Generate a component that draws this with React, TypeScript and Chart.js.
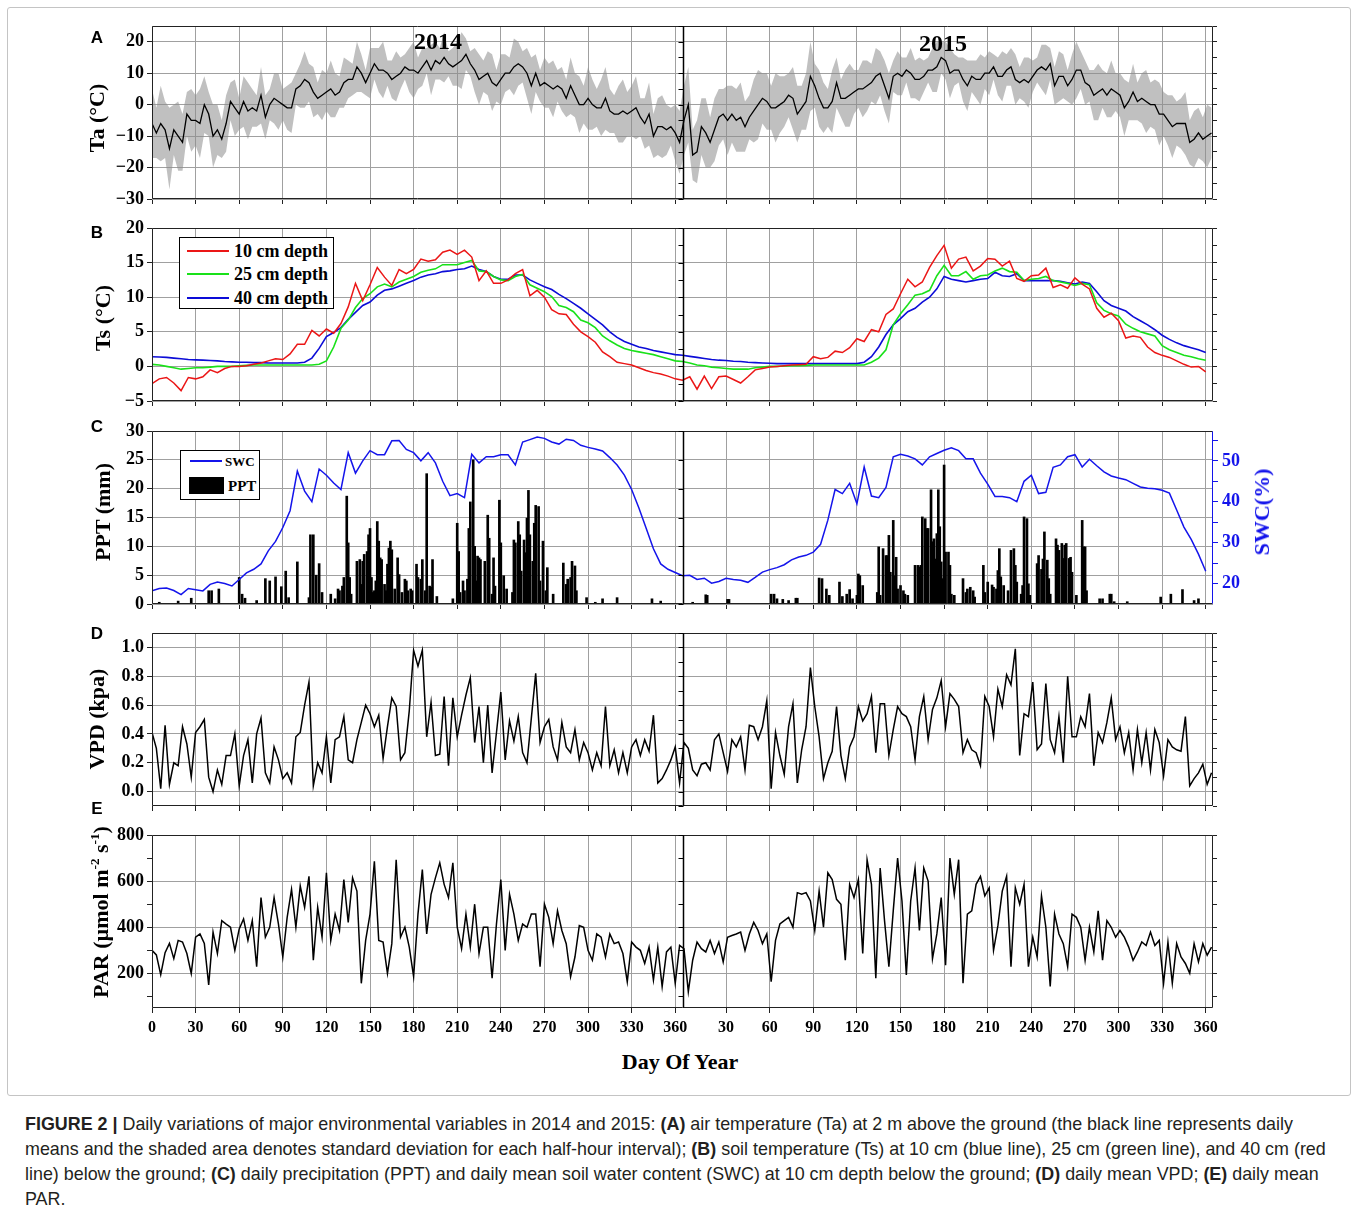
import React, { useEffect, useRef } from "react";
import { Chart, registerables } from "chart.js";

Chart.register(...registerables);

// ================= DATA =================
const YEAR_DAYS = 365;
const X_MAX = 730;
const TICK_DAYS = [0, 30, 60, 90, 120, 150, 180, 210, 240, 270, 300, 330, 360];

// (A) air temperature, daily mean and SD, one value every 3 days
const TA_STEP = 3;
const TA_MEAN_2014 = [
  -6, -9, -6, -8, -14, -8, -10, -12, -3, -5,
  -5, -6, 0, -3, -10, -8, -11, -6, 1, -1,
  -3, 1, -2, -1, -2, 3, -4, 0, 2, 1,
  0, -1, -1, 5, 6, 8, 7, 4, 2, 3,
  4, 5, 3, 4, 7, 8, 8, 12, 10, 7,
  10, 13, 11, 11, 10, 8, 9, 10, 12, 11,
  11, 10, 12, 14, 11, 14, 13, 15, 13, 12,
  13, 14, 16, 13, 11, 8, 9, 10, 7, 6,
  8, 10, 10, 12, 13, 12, 10, 6, 10, 6,
  7, 6, 5, 6, 5, 2, 6, 3, 0, 0,
  2, 0, -1, -1, 2, -2, -3, -3, -2, -3,
  -2, -1, -4, -6, -3, -10, -7, -7, -8, -7,
  -9, -12,
];
const TA_MEAN_2015 = [
  -5, 0, -16, -15, -7, -9, -12, -8, -4, -3,
  -5, -3, -5, -4, -7, -4, -2, 0, 2, 1,
  -1, -1, 0, 1, 3, 2, -3, -1, 1, 9,
  6, 2, -1, -1, 1, 7, 2, 2, 3, 4,
  5, 5, 6, 7, 9, 10, 6, 2, 9, 10,
  9, 11, 10, 8, 8, 9, 11, 11, 12, 15,
  14, 10, 11, 11, 8, 6, 9, 8, 8, 10,
  10, 12, 9, 9, 11, 12, 8, 7, 8, 7,
  9, 11, 12, 11, 13, 6, 9, 9, 6, 8,
  11, 11, 7, 6, 3, 4, 5, 3, 5, 4,
  3, -1, 1, 4, 1, 2, 1, 0, 0, -3,
  -3, -5, -7, -6, -6, -6, -12, -11, -9, -11,
  -10, -9,
];
const TA_SD_2014 = [
  11, 8, 12, 9, 13, 8, 11, 9,
  7, 10, 8, 11, 9, 7, 10, 8, 6, 9,
  6, 9, 5, 8, 9, 6, 5, 9, 7, 5, 8, 9, 5, 7,
  8, 5, 7, 9, 6, 8, 5, 8, 6, 9, 7, 5, 8, 6,
  5, 8, 6, 4, 8, 5, 7, 9, 4, 6, 8, 5, 4, 7, 9, 5, 6, 4, 8, 6, 5, 8, 4, 6, 7, 9, 5, 4, 7,
  8, 5, 7, 9, 5, 8, 6, 5, 9, 7, 5, 8, 9, 6, 5, 8, 7, 9, 5, 7, 6, 9, 7,
  9, 6, 10, 8, 6, 9, 10, 7, 6, 9, 10, 7, 8, 10, 6, 8, 10, 7, 9, 10, 8, 6, 9, 10,
];
const TA_SD_2015 = [
  11, 12, 8, 10, 9, 11, 8, 10, 9, 8, 11, 9,
  10, 11, 8, 7, 10, 11, 8, 9, 7, 11, 9, 8, 7, 10, 9,
  7, 9, 11, 7, 9, 8, 6, 10, 8, 6, 9, 10, 7, 6, 9, 8, 6, 9, 7, 8,
  8, 5, 7, 6, 4, 8, 6, 7, 5, 4, 7, 8, 5, 6, 8, 5, 4, 7, 8, 5, 6, 8, 5, 7, 4, 6, 8, 5, 6, 8, 5, 7, 8, 5, 4, 7, 8, 5, 6, 8,
  7, 5, 8, 9, 6, 7, 5, 8, 9, 6, 7, 9, 6, 7, 9, 6,
  9, 6, 8, 10, 7, 8, 10, 7, 8, 10, 7, 8, 10, 7, 9, 8, 7, 10, 8,
];

// (B) soil temperature, one value every 5 days
const TS_STEP = 5;
const TS10_2014 = [
  -2.5, -1.8, -1.6, -2.4, -3.5, -1.6, -1.8, -1.5, -0.5, -0.9,
  -0.3, 0.0, 0.0, 0.1, 0.3, 0.5, 0.8, 1.1, 1.0, 1.8,
  3.2, 3.2, 5.2, 4.4, 5.4, 4.8, 6.2, 8.6, 12.0, 9.5,
  11.8, 14.3, 12.9, 11.7, 14.0, 13.4, 14.0, 15.5, 15.2, 15.4,
  16.5, 16.8, 16.2, 16.8, 15.8, 12.4, 13.8, 12.0, 12.0, 12.5,
  13.4, 14.0, 10.2, 11.0, 10.0, 8.2, 7.6, 7.5, 6.1, 5.0,
  4.3, 3.5, 2.1, 1.4, 0.6, 0.4, 0.2, -0.2, -0.6, -0.9,
  -1.1, -1.4, -1.8,
];
const TS10_2015 = [
  -2.0, -1.5, -3.3, -1.4, -3.2, -1.5, -1.4, -1.9, -2.4, -1.5,
  -0.5, -0.3, -0.1, 0.0, 0.1, 0.2, 0.25, 0.3, 1.4, 1.1,
  1.3, 2.2, 2.0, 2.7, 4.0, 3.6, 5.3, 5.0, 7.5, 8.3,
  10.5, 12.6, 11.5, 12.2, 14.3, 16.0, 17.5, 14.2, 15.5, 15.8,
  13.8, 14.5, 15.6, 15.5, 14.5, 15.2, 12.7, 12.3, 13.1, 13.2,
  14.2, 11.4, 11.8, 11.3, 12.8, 11.9, 11.2, 8.4, 7.1, 7.7,
  6.6, 4.1, 4.4, 4.2, 2.8, 2.0, 1.6, 1.3, 0.8, 0.3,
  -0.1, 0.0, -0.8,
];
const TS25_2014 = [
  0.3, 0.2, 0.0, -0.2, -0.4, -0.3, -0.2, -0.2, -0.1, 0.0,
  0.0, 0.0, 0.1, 0.15, 0.2, 0.2, 0.2, 0.2, 0.2, 0.2,
  0.2, 0.2, 0.2, 0.3, 0.8, 2.8, 5.5, 6.7, 8.5, 9.8,
  10.5, 11.5, 11.9, 11.5, 12.2, 12.6, 13.0, 13.6, 13.9, 14.1,
  14.7, 14.7, 14.7, 15.0, 15.3, 13.8, 13.7, 13.0, 12.5, 12.4,
  13.0, 13.3, 11.8, 11.3, 10.8, 10.1, 8.8, 8.5, 7.9, 6.7,
  6.3, 5.6, 4.4, 3.7, 3.1, 2.6, 2.3, 2.1, 1.9, 1.7,
  1.4, 1.1, 0.8,
];
const TS25_2015 = [
  0.7, 0.5, 0.2, 0.1, -0.1, -0.2, -0.3, -0.4, -0.4, -0.4,
  -0.2, -0.1, 0.0, 0.0, 0.05, 0.1, 0.1, 0.15, 0.2, 0.2,
  0.2, 0.2, 0.2, 0.2, 0.2, 0.2, 0.6, 1.2, 2.4, 6.0,
  7.6, 8.9, 10.3, 10.5, 11.0, 13.1, 14.6, 13.1, 13.1, 13.7,
  12.6, 13.1, 13.2, 13.8, 14.2, 13.7, 13.6, 12.4, 12.6, 12.7,
  13.0, 12.4, 12.2, 12.0, 11.7, 12.0, 11.8, 9.2, 8.1, 7.6,
  7.3, 6.1, 5.5, 5.0, 4.7, 4.4, 3.0, 2.4, 2.0, 1.6,
  1.4, 1.1, 0.9,
];
const TS40_2014 = [
  1.4, 1.35, 1.3, 1.2, 1.1, 1.0, 0.95, 0.9, 0.85, 0.8,
  0.7, 0.65, 0.6, 0.6, 0.55, 0.55, 0.5, 0.5, 0.5, 0.5,
  0.5, 0.6, 1.2, 2.6, 4.3, 4.9, 5.6, 6.8, 7.8, 8.8,
  9.3, 10.3, 11.0, 11.2, 11.6, 12.0, 12.4, 12.9, 13.2, 13.4,
  13.7, 13.8, 14.0, 14.1, 14.5, 14.0, 13.7, 13.0, 12.6, 12.6,
  13.2, 13.2, 12.5, 12.0, 11.5, 11.1, 10.4, 9.8, 9.1, 8.4,
  7.6, 6.8, 6.0, 5.0, 4.2, 3.6, 3.2, 2.8, 2.6, 2.3,
  2.1, 1.9, 1.7,
];
const TS40_2015 = [
  1.6, 1.45, 1.3, 1.15, 1.0, 0.9, 0.85, 0.75, 0.7, 0.6,
  0.55, 0.5, 0.45, 0.4, 0.4, 0.4, 0.4, 0.4, 0.4, 0.4,
  0.4, 0.4, 0.4, 0.4, 0.4, 0.6, 1.4, 2.8, 4.6, 6.0,
  6.9, 7.9, 8.4, 9.3, 10.0, 11.2, 13.0, 12.6, 12.4, 12.2,
  12.4, 12.6, 12.7, 13.6, 13.1, 13.0, 13.4, 12.4, 12.4, 12.4,
  12.4, 12.4, 12.3, 12.1, 11.9, 12.2, 12.0, 10.8, 9.5, 8.8,
  8.4, 8.0, 7.2, 6.6, 6.0, 5.3, 4.5, 3.9, 3.4, 3.0,
  2.7, 2.4, 2.0,
];

// (C) soil water content (%), every 5 days; precipitation (mm) on rain days
const SWC_STEP = 5;
const SWC_2014 = [
  18.2, 18.8, 18.9, 18.3, 17.3, 18.8, 18.5, 18.2, 19.8, 20.4,
  20.0, 19.4, 21.0, 22.6, 23.5, 24.8, 28.0, 30.3, 33.7, 37.8,
  47.5, 42.6, 40.0, 48.0, 46.5, 44.6, 43.0, 52.0, 47.0, 50.0,
  52.5, 51.5, 51.5, 54.9, 55.0, 52.8, 52.0, 50.0, 52.0, 49.5,
  45.0, 41.5, 42.0, 41.0, 51.6, 49.5, 51.0, 51.0, 51.5, 51.5,
  49.0, 54.6, 55.2, 55.8, 55.5, 54.6, 54.1, 55.3, 55.0, 53.8,
  53.3, 52.9, 52.4, 50.8, 49.0, 46.5, 43.0, 38.5, 33.5, 28.5,
  24.8, 23.5, 22.7,
];
const SWC_2015 = [
  21.9, 22.0, 21.0, 21.3, 20.1, 20.5, 21.3, 21.0, 20.8, 20.3,
  21.5, 22.8, 23.4, 23.9, 24.6, 25.8, 26.5, 26.9, 27.7, 29.6,
  35.5, 43.0, 42.0, 44.5, 39.5, 48.5, 41.4, 41.0, 43.5, 51.0,
  51.6, 51.2, 50.5, 49.0, 51.0, 51.8, 52.6, 53.2, 52.5, 50.5,
  50.5, 47.0, 44.3, 41.3, 41.3, 41.0, 40.0, 45.0, 46.5, 42.0,
  42.3, 48.4, 49.0, 51.0, 51.5, 48.5, 50.4, 48.8, 47.3, 46.3,
  45.8, 45.4, 44.5, 43.6, 43.3, 43.2, 42.8, 42.1, 38.0, 33.8,
  30.8, 27.2, 23.0,
];
const PPT_DAY_2014 = [
  5, 18, 27, 39, 41, 46, 60, 62, 64, 72, 78, 81, 85, 89, 92, 94, 100, 108, 109, 111,
  113, 115, 117, 123, 126, 128, 129, 131, 132, 134, 135, 136, 137, 141, 143, 144, 145, 146, 148, 149,
  150, 151, 152, 153, 154, 155, 156, 157, 158, 160, 161, 162, 163, 164, 165, 167, 169, 170, 172, 174,
  175, 176, 178, 179, 182, 183, 185, 186, 188, 189, 191, 192, 193, 196, 207, 210, 211, 212, 214, 215,
  217, 218, 219, 221, 222, 223, 224, 225, 226, 229, 231, 232, 234, 235, 236, 239, 240, 242, 244, 248,
  249, 250, 252, 253, 254, 256, 257, 258, 259, 260, 262, 263, 264, 266, 267, 269, 271, 272, 276, 283,
  285, 286, 288, 289, 291, 292, 299, 305, 310, 320, 344, 350,
];
const PPT_MM_2014 = [
  0.3, 0.5, 1.0, 2.3, 2.3, 2.6, 4.6, 1.7, 1.0, 0.6, 4.4, 4.0, 4.7, 3.0, 5.7, 1.1, 7.3, 1.1, 12.0, 12.0,
  5.0, 7.0, 2.0, 1.7, 0.9, 2.6, 2.3, 3.1, 4.6, 18.7, 10.6, 4.6, 1.7, 7.4, 7.7, 3.4, 7.4, 8.6, 9.1, 12.0,
  13.1, 4.6, 2.0, 2.3, 4.0, 14.3, 10.9, 8.0, 7.7, 3.4, 2.3, 6.9, 9.7, 10.9, 9.4, 2.6, 8.0, 5.1, 2.0, 4.3,
  4.0, 2.3, 2.6, 2.3, 6.9, 4.6, 4.3, 7.7, 2.3, 22.6, 3.1, 2.9, 7.7, 1.3, 0.9, 14.0, 9.1, 2.0, 4.0, 2.3,
  4.3, 13.1, 17.7, 25.0, 10.0, 4.0, 8.3, 8.0, 7.7, 7.4, 15.4, 11.4, 1.7, 8.0, 3.1, 18.0, 10.6, 4.9, 2.6, 2.0,
  11.1, 10.6, 14.3, 12.0, 5.7, 11.1, 8.9, 14.9, 19.7, 12.0, 7.4, 14.0, 17.1, 16.9, 4.0, 10.9, 2.3, 6.3, 1.7, 7.1,
  3.4, 4.3, 4.6, 7.4, 6.6, 2.3, 1.1, 0.3, 0.9, 1.1, 0.9, 0.5,
];
const PPT_DAY_2015 = [
  7, 16, 17, 31, 32, 61, 63, 65, 69, 73, 78, 79, 94, 96, 99, 101, 108, 110, 113, 115,
  117, 120, 121, 122, 124, 134, 135, 136, 138, 140, 141, 142, 143, 145, 146, 147, 148, 150, 152, 153,
  155, 160, 162, 163, 164, 165, 167, 168, 169, 171, 172, 173, 174, 175, 176, 177, 178, 179, 180, 181,
  183, 184, 185, 187, 193, 195, 196, 198, 200, 201, 207, 208, 210, 213, 214, 216, 217, 218, 219, 221,
  224, 226, 228, 229, 230, 233, 234, 235, 237, 238, 239, 244, 245, 247, 248, 249, 251, 252, 253, 257,
  258, 259, 261, 262, 263, 264, 266, 267, 268, 271, 275, 276, 277, 278, 287, 289, 294, 295, 297, 306,
  329, 336, 344, 352, 355,
];
const PPT_MM_2015 = [
  0.3, 1.6, 1.5, 0.8, 0.8, 1.7, 1.7, 0.9, 0.8, 0.6, 1.0, 1.0, 4.5, 4.4, 2.6, 1.5, 3.8, 1.3, 1.7, 2.5,
  0.9, 1.5, 5.2, 4.9, 3.2, 2.0, 9.9, 1.5, 9.6, 8.4, 8.4, 11.9, 5.5, 14.5, 4.9, 8.1, 2.6, 3.2, 2.3, 1.7,
  1.5, 6.7, 6.7, 6.4, 6.7, 15.1, 14.8, 13.1, 13.1, 19.8, 10.8, 11.3, 7.8, 12.2, 19.8, 13.4, 7.3, 4.4, 24.1, 9.0,
  9.0, 6.7, 1.7, 1.5, 4.4, 2.0, 2.6, 2.9, 2.3, 1.2, 6.7, 2.0, 3.8, 3.3, 2.9, 2.6, 5.8, 9.6, 4.7, 3.2,
  2.3, 9.3, 9.6, 6.7, 3.8, 1.7, 3.2, 15.1, 14.8, 3.5, 1.5, 7.0, 8.4, 6.0, 7.8, 12.5, 7.6, 4.4, 1.7, 11.3,
  10.2, 9.3, 10.5, 7.9, 10.2, 10.5, 7.9, 8.1, 5.5, 1.5, 14.5, 9.9, 9.9, 2.3, 0.9, 0.9, 1.7, 1.7, 0.4, 0.4,
  1.2, 1.7, 2.5, 0.6, 0.9,
];

// (D) VPD (kPa) and (E) PAR, one value every 3 days
const DAILY_STEP = 3;
const VPD_2014 = [
  0.41, 0.3, 0.02, 0.46, 0.05, 0.2, 0.18, 0.45, 0.33, 0.1,
  0.41, 0.45, 0.5, 0.1, 0.0, 0.15, 0.05, 0.25, 0.25, 0.4,
  0.04, 0.25, 0.36, 0.06, 0.4, 0.51, 0.13, 0.06, 0.31, 0.22,
  0.09, 0.13, 0.06, 0.38, 0.41, 0.6, 0.76, 0.04, 0.2, 0.13,
  0.38, 0.06, 0.36, 0.38, 0.52, 0.22, 0.2, 0.36, 0.48, 0.6,
  0.54, 0.45, 0.53, 0.23, 0.45, 0.65, 0.59, 0.22, 0.27, 0.56,
  0.98, 0.87, 0.98, 0.38, 0.62, 0.25, 0.26, 0.66, 0.18, 0.65,
  0.38, 0.53, 0.67, 0.79, 0.34, 0.59, 0.2, 0.6, 0.13, 0.41,
  0.69, 0.22, 0.49, 0.35, 0.52, 0.27, 0.2, 0.51, 0.82, 0.34,
  0.45, 0.5, 0.31, 0.22, 0.48, 0.31, 0.27, 0.43, 0.22, 0.34,
  0.27, 0.15, 0.27, 0.18, 0.59, 0.18, 0.29, 0.13, 0.27, 0.13,
  0.31, 0.36, 0.25, 0.36, 0.28, 0.53, 0.06, 0.09, 0.15, 0.22,
  0.31, 0.06,
];
const VPD_2015 = [
  0.34, 0.3, 0.15, 0.11, 0.19, 0.2, 0.15, 0.36, 0.4, 0.27,
  0.14, 0.36, 0.31, 0.38, 0.15, 0.46, 0.45, 0.36, 0.45, 0.63,
  0.02, 0.41, 0.25, 0.12, 0.45, 0.61, 0.06, 0.29, 0.45, 0.86,
  0.59, 0.38, 0.09, 0.2, 0.28, 0.59, 0.25, 0.09, 0.31, 0.38,
  0.59, 0.49, 0.54, 0.66, 0.27, 0.61, 0.61, 0.25, 0.43, 0.59,
  0.54, 0.52, 0.45, 0.22, 0.52, 0.66, 0.36, 0.57, 0.65, 0.77,
  0.45, 0.68, 0.64, 0.59, 0.27, 0.36, 0.29, 0.27, 0.18, 0.66,
  0.59, 0.38, 0.71, 0.59, 0.81, 0.74, 0.99, 0.25, 0.54, 0.52,
  0.76, 0.29, 0.33, 0.75, 0.36, 0.27, 0.52, 0.2, 0.8, 0.38,
  0.38, 0.52, 0.45, 0.68, 0.18, 0.41, 0.34, 0.48, 0.65, 0.36,
  0.45, 0.27, 0.41, 0.15, 0.43, 0.2, 0.41, 0.15, 0.43, 0.34,
  0.11, 0.36, 0.31, 0.29, 0.28, 0.52, 0.04, 0.09, 0.13, 0.19,
  0.05, 0.13,
];
const PAR_2014 = [
  300, 280, 195, 290, 330, 264, 343, 336, 286, 200,
  357, 371, 330, 150, 379, 286, 429, 414, 400, 300,
  393, 436, 343, 429, 229, 529, 357, 400, 529, 414,
  271, 443, 564, 400, 579, 486, 621, 257, 486, 357,
  636, 343, 457, 386, 607, 421, 614, 557, 157, 343,
  457, 686, 343, 336, 200, 329, 693, 357, 400, 314,
  186, 457, 650, 371, 543, 614, 679, 586, 529, 679,
  400, 307, 457, 314, 500, 286, 400, 400, 179, 414,
  607, 300, 543, 457, 343, 414, 400, 457, 457, 229,
  500, 443, 329, 471, 386, 329, 186, 271, 407, 400,
  300, 257, 371, 357, 271, 371, 329, 336, 286, 164,
  336, 314, 300, 243, 314, 171, 314, 143, 293, 314,
  157, 321,
];
const PAR_2015 = [
  307, 121, 257, 336, 307, 293, 343, 286, 336, 250,
  357, 364, 371, 379, 300, 371, 421, 386, 329, 371,
  164, 343, 414, 429, 443, 400, 550, 543, 550, 514,
  386, 557, 400, 636, 607, 521, 500, 257, 586, 529,
  607, 286, 693, 586, 179, 657, 429, 229, 471, 700,
  514, 193, 514, 657, 386, 657, 600, 264, 371, 529,
  236, 700, 543, 693, 157, 457, 471, 586, 621, 536,
  571, 300, 407, 557, 621, 229, 571, 500, 586, 229,
  357, 271, 536, 400, 143, 457, 371, 329, 229, 457,
  443, 400, 257, 400, 293, 471, 257, 429, 400, 357,
  386, 357, 314, 257, 293, 336, 321, 379, 321, 343,
  157, 336, 157, 329, 271, 243, 200, 329, 250, 329,
  279, 314,
];

// axis tick values
const TA_TICKS = [-30, -20, -10, 0, 10, 20];
const TA_MINOR = [-25, -15, -5, 5, 15, 25];
const TS_TICKS = [-5, 0, 5, 10, 15, 20];
const TS_MINOR = [-2.5, 2.5, 7.5, 12.5, 17.5];
const PPT_TICKS = [0, 5, 10, 15, 20, 25, 30];
const SWC_TICKS = [20, 30, 40, 50];
const SWC_MINOR = [25, 35, 45, 55];
const VPD_TICKS = [0, 0.2, 0.4, 0.6, 0.8, 1.0];
const VPD_MINOR = [-0.1, 0.1, 0.3, 0.5, 0.7, 0.9, 1.1];
const PAR_TICKS = [200, 400, 600, 800];
const PAR_MINOR = [100, 300, 500, 700];

// ================= STYLE / LAYOUT =================
const W = 1358;
const H = 1213;
const PLOT_LEFT = 152;
const PLOT_RIGHT = 1213;
const PLOT_H = 173;
const PAD_T = 15;
const XAXIS_H = 15;
const XAXIS_H_LAST = 40;
const PANEL_TOPS = [26, 228, 431, 633, 835];

const SERIF = '"Liberation Serif", "Times New Roman", Times, serif';
const SANS = '"Liberation Sans", Arial, Helvetica, sans-serif';
const GRID = "#a0a0a0";
const AXIS = "#222222";
const BAND = "rgba(140,140,140,0.55)";
const RED = "rgb(235,22,22)";
const GREEN = "rgb(25,225,25)";
const BLUE = "rgb(12,12,215)";
const SWC_BLUE = "rgb(20,20,235)";
const TICK_FONT = { family: SERIF, size: 18, weight: "bold" as const };

const X_TICKS = [...TICK_DAYS, ...TICK_DAYS.slice(1).map((d) => d + YEAR_DAYS)];

const pts = (vals: number[], start: number, step: number) =>
  vals.map((y, i) => ({ x: start + i * step, y }));
const pairs = (days: number[], vals: number[], offset: number) =>
  days.map((d, i) => ({ x: d + offset, y: vals[i] }));
const minus = (v: number) => (v < 0 ? "\u2212" + Math.abs(v) : String(v));
const merge = (a: number[], b: number[]) => [...a, ...b].sort((p, q) => p - q);
const has = (arr: number[], v: number) => arr.some((a) => Math.abs(a - v) < 1e-9);

// ================= CHART HELPERS =================
const framePlugin = {
  id: "frame",
  afterDraw(chart: any, _args: any, opts: any) {
    const { ctx, chartArea: a } = chart;
    const L = Math.round(a.left) + 0.5;
    const R = Math.round(a.right) - 0.5;
    const T = Math.round(a.top) + 0.5;
    const B = Math.round(a.bottom) - 0.5;
    ctx.save();
    ctx.lineWidth = 1;
    ctx.strokeStyle = AXIS;
    ctx.beginPath();
    ctx.moveTo(R, T);
    ctx.lineTo(L, T);
    ctx.lineTo(L, B);
    ctx.lineTo(R, B);
    ctx.stroke();
    ctx.strokeStyle = (opts && opts.rightColor) || AXIS;
    ctx.beginPath();
    ctx.moveTo(R, T);
    ctx.lineTo(R, B);
    ctx.stroke();
    const sx = Math.round(chart.scales.x.getPixelForValue(YEAR_DAYS)) + 0.5;
    ctx.strokeStyle = "#000";
    ctx.lineWidth = 1.5;
    ctx.beginPath();
    ctx.moveTo(sx, T);
    ctx.lineTo(sx, B);
    ctx.stroke();
    ctx.lineWidth = 1;
    const ys = chart.scales.y;
    ((opts && opts.sepTicks) || []).forEach((v: number) => {
      const y = Math.round(ys.getPixelForValue(v)) + 0.5;
      ctx.beginPath();
      ctx.moveTo(sx - 5, y);
      ctx.lineTo(sx, y);
      ctx.stroke();
    });
    ctx.restore();
  },
};
Chart.register(framePlugin);

function xScale(showLabels: boolean) {
  return {
    type: "linear",
    min: 0,
    max: X_MAX,
    offset: false,
    afterBuildTicks: (s: any) => {
      s.ticks = X_TICKS.map((value) => ({ value }));
    },
    afterFit: (s: any) => {
      s.height = showLabels ? XAXIS_H_LAST : XAXIS_H;
    },
    grid: { color: GRID, lineWidth: 1, drawTicks: true, tickLength: 5, tickColor: AXIS, offset: false },
    border: { display: false },
    ticks: {
      display: showLabels,
      autoSkip: false,
      maxRotation: 0,
      minRotation: 0,
      padding: 5,
      color: "#000",
      font: { family: SERIF, size: 16, weight: "bold" },
      callback: (v: number) => String(v >= YEAR_DAYS ? v - YEAR_DAYS : v),
    },
  };
}

function yLeft(min: number, max: number, major: number[], minor: number[], fmt: (v: number) => string) {
  const all = merge(major, minor);
  return {
    type: "linear",
    position: "left",
    min,
    max,
    afterBuildTicks: (s: any) => {
      s.ticks = all.map((value) => ({ value }));
    },
    afterFit: (s: any) => {
      s.width = PLOT_LEFT;
    },
    grid: {
      color: (c: any) => (c.tick && has(minor, c.tick.value) ? "rgba(0,0,0,0)" : GRID),
      lineWidth: 1,
      tickLength: 5,
      tickColor: AXIS,
    },
    border: { display: false },
    ticks: {
      autoSkip: false,
      padding: 3,
      color: "#000",
      font: TICK_FONT,
      callback: (v: number) => (has(minor, v) ? "" : fmt(v)),
    },
  };
}

function yMirror(min: number, max: number, ticks: number[]) {
  return {
    type: "linear",
    position: "right",
    min,
    max,
    afterBuildTicks: (s: any) => {
      s.ticks = ticks.map((value) => ({ value }));
    },
    afterFit: (s: any) => {
      s.width = W - PLOT_RIGHT;
    },
    grid: { drawOnChartArea: false, tickLength: 4, tickColor: AXIS },
    border: { display: false },
    ticks: { display: false },
  };
}

function baseOptions(scales: any, frame: any) {
  return {
    responsive: false,
    animation: false,
    events: [],
    layout: { padding: { top: PAD_T, left: 0, right: 0, bottom: 0 } },
    plugins: { legend: { display: false }, tooltip: { enabled: false }, title: { display: false }, frame },
    elements: { point: { radius: 0 }, line: { tension: 0 } },
    scales,
  };
}

const lineDs = (data: any[], color: string, width: number, extra: any = {}) => ({
  type: "line",
  data,
  borderColor: color,
  backgroundColor: color,
  borderWidth: width,
  pointRadius: 0,
  fill: false,
  ...extra,
});

function buildTa() {
  const mean = [...pts(TA_MEAN_2014, 0, TA_STEP), ...pts(TA_MEAN_2015, YEAR_DAYS + 1, TA_STEP)];
  const sd = [...TA_SD_2014, ...TA_SD_2015];
  const upper = mean.map((p, i) => ({ x: p.x, y: p.y + sd[i] }));
  const lower = mean.map((p, i) => ({ x: p.x, y: p.y - sd[i] }));
  return {
    type: "line",
    data: {
      datasets: [
        lineDs(mean, "#000", 1.3),
        lineDs(upper, BAND, 0, { fill: "+1", backgroundColor: BAND }),
        lineDs(lower, BAND, 0),
      ],
    },
    options: baseOptions(
      { x: xScale(false), y: yLeft(-30, 25, TA_TICKS, [], minus), yr: yMirror(-30, 25, merge(TA_TICKS, TA_MINOR)) },
      { sepTicks: merge(TA_TICKS, TA_MINOR) }
    ),
  };
}

function buildTs() {
  const s = (a: number[], b: number[]) => [...pts(a, 0, TS_STEP), ...pts(b, YEAR_DAYS, TS_STEP)];
  return {
    type: "line",
    data: {
      datasets: [
        lineDs(s(TS10_2014, TS10_2015), RED, 1.5),
        lineDs(s(TS25_2014, TS25_2015), GREEN, 1.6),
        lineDs(s(TS40_2014, TS40_2015), BLUE, 1.6),
      ],
    },
    options: baseOptions(
      { x: xScale(false), y: yLeft(-5, 20, TS_TICKS, [], minus), yr: yMirror(-5, 20, merge(TS_TICKS, TS_MINOR)) },
      { sepTicks: merge(TS_TICKS, TS_MINOR) }
    ),
  };
}

function buildPpt() {
  const swc = [...pts(SWC_2014, 0, SWC_STEP), ...pts(SWC_2015, YEAR_DAYS, SWC_STEP)];
  const ppt = [...pairs(PPT_DAY_2014, PPT_MM_2014, 0), ...pairs(PPT_DAY_2015, PPT_MM_2015, YEAR_DAYS)];
  const swcAll = merge(SWC_TICKS, SWC_MINOR);
  return {
    type: "bar",
    data: {
      datasets: [
        lineDs(swc, SWC_BLUE, 1.5, { yAxisID: "y2", order: 0 }),
        {
          type: "bar",
          data: ppt,
          yAxisID: "y",
          backgroundColor: "#000",
          borderWidth: 0,
          barThickness: 2,
          categoryPercentage: 1,
          barPercentage: 1,
          order: 1,
        },
      ],
    },
    options: baseOptions(
      {
        x: xScale(false),
        y: yLeft(0, 30, PPT_TICKS, [], minus),
        y2: {
          type: "linear",
          position: "right",
          min: 15,
          max: 57.3,
          afterBuildTicks: (s: any) => {
            s.ticks = swcAll.map((value) => ({ value }));
          },
          afterFit: (s: any) => {
            s.width = W - PLOT_RIGHT;
          },
          grid: { drawOnChartArea: false, tickLength: 5, tickColor: SWC_BLUE },
          border: { display: false },
          ticks: {
            autoSkip: false,
            padding: 4,
            color: SWC_BLUE,
            font: TICK_FONT,
            callback: (v: number) => (has(SWC_MINOR, v) ? "" : String(v)),
          },
        },
      },
      { rightColor: SWC_BLUE, sepTicks: [0, 5, 10, 15, 20, 25, 30] }
    ),
  };
}

function buildVpd() {
  const data = [...pts(VPD_2014, 0, DAILY_STEP), ...pts(VPD_2015, YEAR_DAYS + 1, DAILY_STEP)];
  return {
    type: "line",
    data: { datasets: [lineDs(data, "#000", 1.5)] },
    options: baseOptions(
      {
        x: xScale(false),
        y: yLeft(-0.1, 1.1, VPD_TICKS, [], (v) => v.toFixed(1)),
        yr: yMirror(-0.1, 1.1, merge(VPD_TICKS, VPD_MINOR)),
      },
      { sepTicks: merge(VPD_TICKS, VPD_MINOR) }
    ),
  };
}

function buildPar() {
  const data = [...pts(PAR_2014, 0, DAILY_STEP), ...pts(PAR_2015, YEAR_DAYS + 1, DAILY_STEP)];
  return {
    type: "line",
    data: { datasets: [lineDs(data, "#000", 1.5)] },
    options: baseOptions(
      {
        x: xScale(true),
        y: yLeft(50, 800, PAR_TICKS, PAR_MINOR, (v) => String(v)),
        yr: yMirror(50, 800, merge(PAR_TICKS, PAR_MINOR)),
      },
      { sepTicks: merge(PAR_TICKS, PAR_MINOR) }
    ),
  };
}

// ================= COMPONENTS =================
function Panel({ top, height, build }: { top: number; height: number; build: () => any }) {
  const ref = useRef<HTMLCanvasElement>(null);
  useEffect(() => {
    const chart = new Chart(ref.current as HTMLCanvasElement, build() as any);
    return () => chart.destroy();
  }, []);
  return (
    <canvas
      ref={ref}
      width={W}
      height={height}
      style={{ position: "absolute", left: 0, top, width: W, height, display: "block" }}
    />
  );
}

function Txt({ x, y, rotate, style, children }: any) {
  return (
    <div
      style={{
        position: "absolute",
        left: x,
        top: y,
        transform: `translate(-50%, -50%)${rotate ? ` rotate(${rotate}deg)` : ""}`,
        whiteSpace: "nowrap",
        lineHeight: 1,
        ...style,
      }}
    >
      {children}
    </div>
  );
}

const titleStyle = { fontFamily: SERIF, fontWeight: "bold", fontSize: 22, color: "#000" };
const letterStyle = { fontFamily: SANS, fontWeight: "bold", fontSize: 17, color: "#000" };

export default function App() {
  const hA = PAD_T + PLOT_H + XAXIS_H;
  const hE = PAD_T + PLOT_H + XAXIS_H_LAST;
  const legendRows = [
    { label: "10 cm depth", color: RED, y: 251 },
    { label: "25 cm depth", color: GREEN, y: 274 },
    { label: "40 cm depth", color: BLUE, y: 298 },
  ];
  const bold = { fontWeight: "bold" as const };
  return (
    <div
      style={{
        position: "absolute",
        left: 0,
        top: 0,
        width: W,
        height: H,
        background: "#fff",
        overflow: "hidden",
      }}
    >
      <div
        style={{
          position: "absolute",
          left: 7,
          top: 7,
          width: 1344,
          height: 1089,
          border: "1px solid #c4c4c4",
          borderRadius: 3,
          boxSizing: "border-box",
        }}
      />
      <Panel top={PANEL_TOPS[0] - PAD_T} height={hA} build={buildTa} />
      <Panel top={PANEL_TOPS[1] - PAD_T} height={hA} build={buildTs} />
      <Panel top={PANEL_TOPS[2] - PAD_T} height={hA} build={buildPpt} />
      <Panel top={PANEL_TOPS[3] - PAD_T} height={hA} build={buildVpd} />
      <Panel top={PANEL_TOPS[4] - PAD_T} height={hE} build={buildPar} />

      {/* panel letters */}
      <Txt x={97} y={37} style={letterStyle}>A</Txt>
      <Txt x={97} y={232} style={letterStyle}>B</Txt>
      <Txt x={97} y={426} style={letterStyle}>C</Txt>
      <Txt x={97} y={633} style={letterStyle}>D</Txt>
      <Txt x={97} y={808} style={letterStyle}>E</Txt>

      {/* axis titles */}
      <Txt x={97} y={118} rotate={-90} style={titleStyle}>Ta (°C)</Txt>
      <Txt x={103} y={318} rotate={-90} style={titleStyle}>Ts (°C)</Txt>
      <Txt x={103} y={512} rotate={-90} style={titleStyle}>PPT (mm)</Txt>
      <Txt x={97} y={719} rotate={-90} style={titleStyle}>VPD (kpa)</Txt>
      <Txt x={100} y={912} rotate={-90} style={titleStyle}>
        PAR (µmol m<sup style={{ fontSize: "0.6em", verticalAlign: "0.7em" }}>-2</sup> s
        <sup style={{ fontSize: "0.6em", verticalAlign: "0.7em" }}>-1</sup>)
      </Txt>
      <Txt x={1262} y={512} rotate={-90} style={{ ...titleStyle, color: SWC_BLUE }}>SWC(%)</Txt>
      <Txt x={680} y={1062} style={titleStyle}>Day Of Year</Txt>

      {/* year labels */}
      <Txt x={438} y={41} style={{ ...titleStyle, fontSize: 24 }}>2014</Txt>
      <Txt x={943} y={43} style={{ ...titleStyle, fontSize: 24 }}>2015</Txt>

      {/* legend B */}
      <div
        style={{
          position: "absolute",
          left: 179,
          top: 237,
          width: 155,
          height: 72,
          border: "1px solid #000",
          background: "#fff",
          boxSizing: "border-box",
        }}
      />
      {legendRows.map((r) => (
        <React.Fragment key={r.label}>
          <div style={{ position: "absolute", left: 187, top: r.y - 1, width: 42, height: 2, background: r.color }} />
          <div
            style={{
              position: "absolute",
              left: 234,
              top: r.y,
              transform: "translateY(-50%)",
              fontFamily: SERIF,
              fontWeight: "bold",
              fontSize: 18,
              lineHeight: 1,
              whiteSpace: "nowrap",
            }}
          >
            {r.label}
          </div>
        </React.Fragment>
      ))}

      {/* legend C */}
      <div
        style={{
          position: "absolute",
          left: 180,
          top: 450,
          width: 80,
          height: 50,
          border: "1px solid #000",
          background: "#fff",
          boxSizing: "border-box",
        }}
      />
      <div style={{ position: "absolute", left: 190, top: 460, width: 32, height: 1.5, background: SWC_BLUE }} />
      <div
        style={{
          position: "absolute",
          left: 225,
          top: 461,
          transform: "translateY(-50%)",
          fontFamily: SERIF,
          fontWeight: "bold",
          fontSize: 13,
          lineHeight: 1,
        }}
      >
        SWC
      </div>
      <div style={{ position: "absolute", left: 189, top: 477, width: 35, height: 17, background: "#000" }} />
      <div
        style={{
          position: "absolute",
          left: 228,
          top: 486,
          transform: "translateY(-50%)",
          fontFamily: SERIF,
          fontWeight: "bold",
          fontSize: 15,
          lineHeight: 1,
        }}
      >
        PPT
      </div>

      {/* caption */}
      <div
        style={{
          position: "absolute",
          left: 25,
          top: 1112,
          fontFamily: SANS,
          fontSize: 17.9,
          lineHeight: "25px",
          color: "#231f20",
          whiteSpace: "nowrap",
        }}
      >
        <div>
          <span style={bold}>FIGURE 2 |</span> Daily variations of major environmental variables in 2014 and 2015:{" "}
          <span style={bold}>(A)</span> air temperature (Ta) at 2 m above the ground (the black line represents daily
        </div>
        <div>
          means and the shaded area denotes standard deviation for each half-hour interval); <span style={bold}>(B)</span>{" "}
          soil temperature (Ts) at 10 cm (blue line), 25 cm (green line), and 40 cm (red
        </div>
        <div>
          line) below the ground; <span style={bold}>(C)</span> daily precipitation (PPT) and daily mean soil water
          content (SWC) at 10 cm depth below the ground; <span style={bold}>(D)</span> daily mean VPD;{" "}
          <span style={bold}>(E)</span> daily mean
        </div>
        <div>PAR.</div>
      </div>
    </div>
  );
}
